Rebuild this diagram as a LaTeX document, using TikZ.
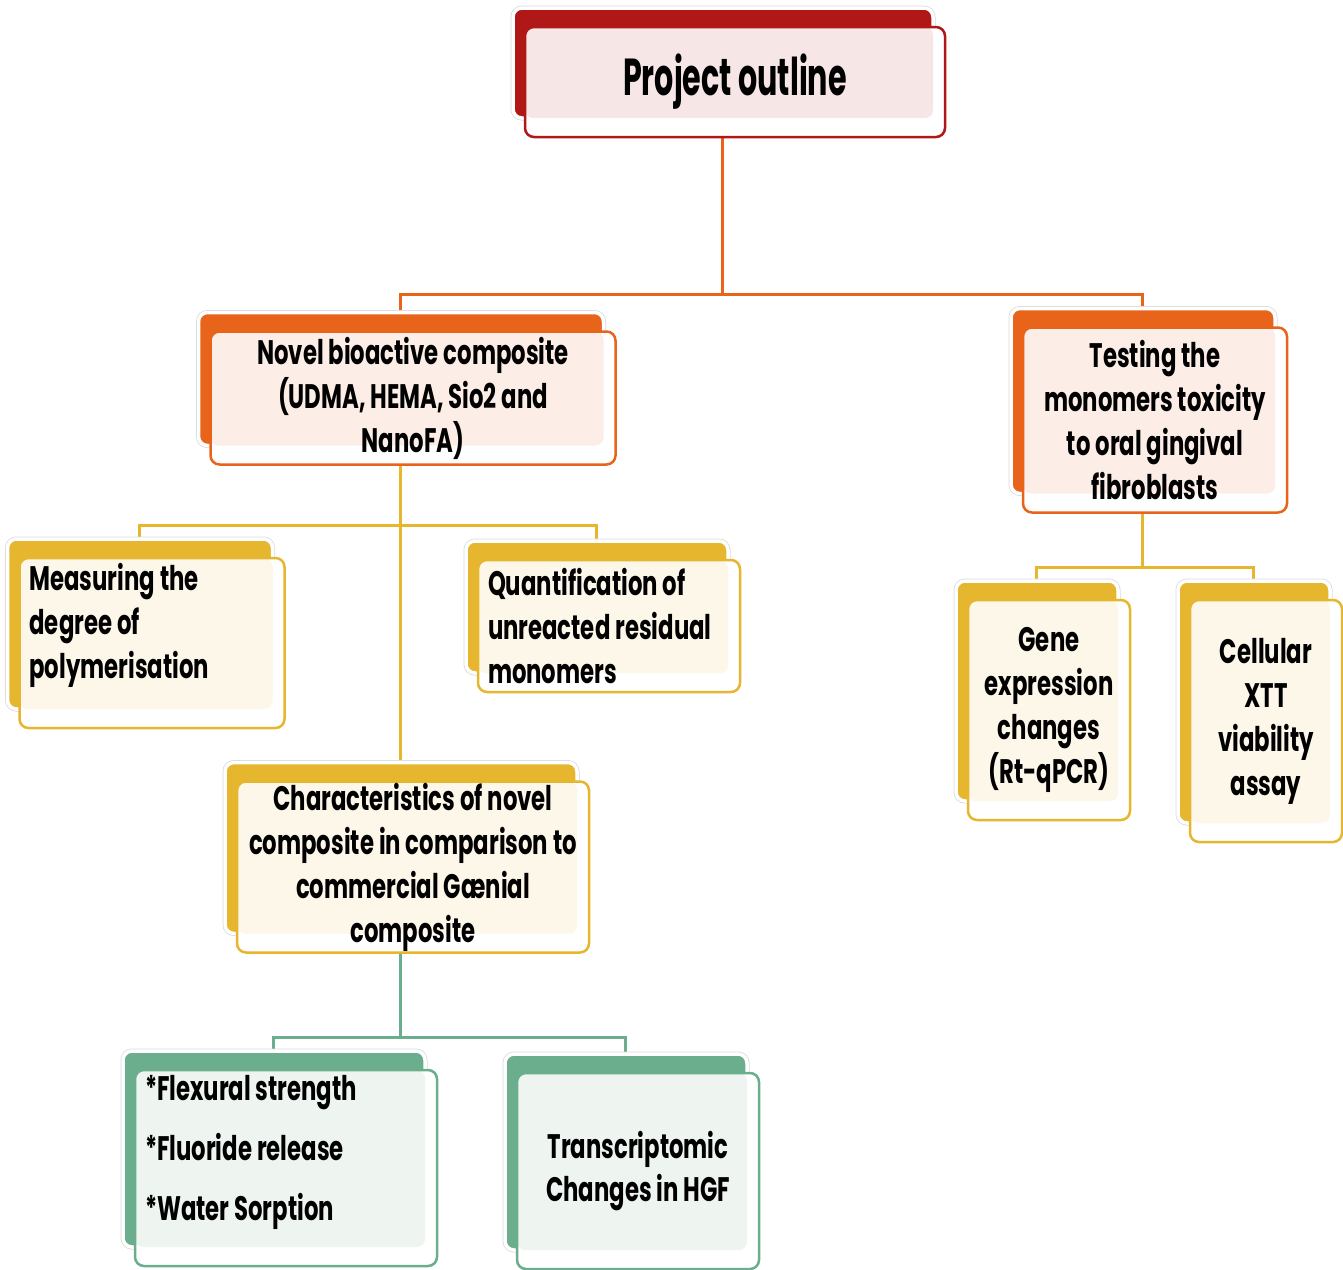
\documentclass[tikz,border=0pt]{standalone}
\usepackage{fontspec}
\setmainfont{Poppins}[FakeStretch=0.67]
\newfontfamily\titlefont{Poppins}[FakeStretch=0.58]
\usetikzlibrary{positioning, shadows, backgrounds}

\definecolor{redc}{HTML}{B01717}
\definecolor{redt}{HTML}{F6E6E6}
\definecolor{orangec}{HTML}{E8641B}
\definecolor{oranget}{HTML}{FCEDE6}
\definecolor{goldc}{HTML}{E6B62F}
\definecolor{goldt}{HTML}{FDF7EA}
\definecolor{greenc}{HTML}{6BAE8E}
\definecolor{greent}{HTML}{EEF5F1}

\begin{document}
\begin{tikzpicture}[x=1pt, y=-1pt,
  card/.style 2 args={rectangle, rounded corners=9pt, draw=#1, line width=2.5pt, fill=white,
    general shadow={draw=black!15, line width=5pt, shadow xshift=-12pt, shadow yshift=19pt},
    general shadow={fill=#1, draw=white, line width=3.5pt, shadow xshift=-12pt, shadow yshift=19pt},
    path picture={\fill[#2, rounded corners=8pt] (path picture bounding box.north west)
      rectangle ([xshift=-12pt, yshift=19pt]path picture bounding box.south east);},
    inner xsep=10pt, inner ysep=0pt, align=center, text=black,
    font=\bfseries\fontsize{34}{44}\selectfont},
  link/.style={line width=3pt, draw=#1}]
  \useasboundingbox (0,0) rectangle (1343,1269);

  % Kopf
  \node[card={redc}{redt}, minimum width=420pt, minimum height=110pt,
    font=\titlefont\bfseries\fontsize{52}{60}\selectfont] (outline) at (735,82) {Project outline};

  % zweite Ebene
  \node[card={orangec}{oranget}, minimum width=405pt, minimum height=133pt] (novel) at (413,398)
    {Novel bioactive composite\\(UDMA, HEMA, Sio2 and\\NanoFA)};
  \node[card={orangec}{oranget}, minimum width=264pt, minimum height=185pt] (testing) at (1155,420)
    {Testing the\\monomers toxicity\\to oral gingival\\fibroblasts};

  % Komposit
  \node[card={goldc}{goldt}, minimum height=170pt, text width=245pt, align=flush left] (measuring) at (152,643)
    {Measuring the\\degree of\\polymerisation\\\mbox{}};
  \node[card={goldc}{goldt}, minimum height=132pt, text width=242pt, align=flush left] (residual) at (609,626)
    {Quantification of\\unreacted residual\\monomers};
  \node[card={goldc}{goldt}, minimum width=352pt, minimum height=171pt] (character) at (413,867)
    {Characteristics of novel\\composite in comparison to\\commercial Gænial\\composite};

  % Toxizitaet
  \node[card={goldc}{goldt}, minimum width=162pt, minimum height=220pt, inner xsep=4pt] (gene) at (1049,710)
    {Gene\\expression\\changes\\(Rt-qPCR)};
  \node[card={goldc}{goldt}, minimum width=152pt, minimum height=242pt, inner xsep=4pt] (xtt) at (1266,721)
    {Cellular\\XTT\\viability\\assay};

  % Eigenschaften
  \node[card={greenc}{greent}, minimum height=196pt, text width=282pt, align=flush left,
    font=\bfseries\fontsize{34}{60}\selectfont] (mechanic) at (286,1168)
    {{*}Flexural strength\\{*}Fluoride release\\{*}Water Sorption\\[-20pt]\mbox{}};
  \node[card={greenc}{greent}, minimum width=242pt, minimum height=196pt,
    font=\bfseries\fontsize{34}{43}\selectfont] (transcript) at (638,1171)
    {Transcriptomic\\Changes in HGF};

  % Verbindungen
  \coordinate (row1) at (0,294);
  \coordinate (row2) at (0,525);
  \coordinate (row3) at (0,567);
  \coordinate (row4) at (0,1037);
  \begin{scope}[on background layer]
    \coordinate (o1) at ([xshift=-13pt]outline.south);
    \draw[link=orangec] (o1) -- (o1 |- row1) -| ([xshift=-13pt]novel.north);
    \draw[link=orangec] (o1 |- row1) -| ([xshift=-13pt]testing.north);
    \coordinate (n1) at ([xshift=-13pt]novel.south);
    \draw[link=goldc] (n1) -- ([xshift=-13pt]character.north);
    \draw[link=goldc] (n1 |- row2) -| ([xshift=-13pt]measuring.north);
    \draw[link=goldc] (n1 |- row2) -| ([xshift=-13pt]residual.north);
    \coordinate (t1) at ([xshift=-13pt]testing.south);
    \draw[link=goldc] (t1) -- (t1 |- row3) -| ([xshift=-13pt]gene.north);
    \draw[link=goldc] (t1 |- row3) -| ([xshift=-13pt]xtt.north);
    \coordinate (c1) at ([xshift=-13pt]character.south);
    \draw[link=greenc] (c1) -- (c1 |- row4) -| ([xshift=-13pt]mechanic.north);
    \draw[link=greenc] (c1 |- row4) -| ([xshift=-13pt]transcript.north);
  \end{scope}
\end{tikzpicture}
\end{document}
